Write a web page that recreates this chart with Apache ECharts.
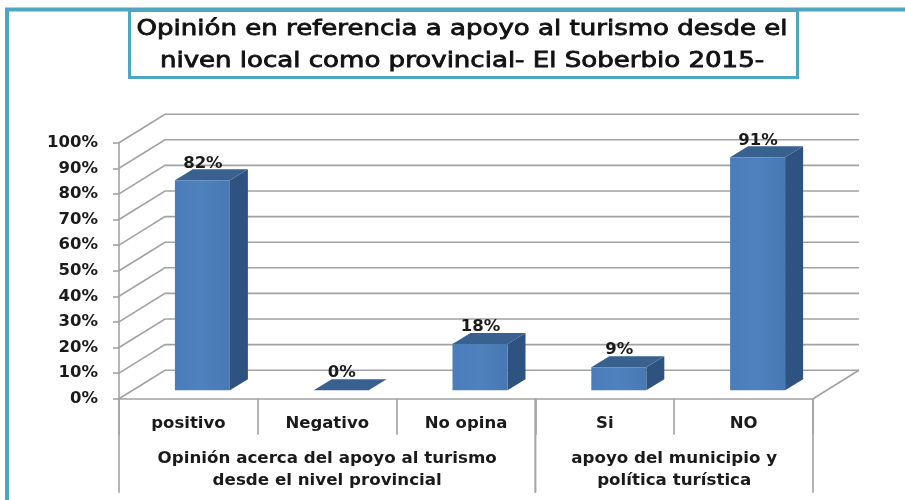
<!DOCTYPE html>
<html>
<head>
<meta charset="utf-8">
<style>
  html, body { margin: 0; padding: 0; background: #fff; }
  #chart { width: 905px; height: 500px; }
</style>
<script src="https://cdn.jsdelivr.net/npm/echarts@6/dist/echarts.min.js"></script>
</head>
<body>
<div id="chart"></div>
<script>
const categories = ['positivo', 'Negativo', 'No opina', 'Si', 'NO'];
const values = [82, 0, 18, 9, 91];
const yTicks = [0, 10, 20, 30, 40, 50, 60, 70, 80, 90, 100];
// first category, last category, label
const groupFirst = [0, 3];
const groupLast = [2, 4];
const groupLabels = [
  'Opinión acerca del apoyo al turismo\ndesde el nivel provincial',
  'apoyo del municipio y\npolítica turística',
];

const chartTitle = 'Opinión en referencia a apoyo al turismo desde el\nniven local como provincial- El Soberbio 2015-';

const teal = '#4fa6c0';
const gridColor = '#a2a2a2';
const textColor = '#1a1a1a';
const fontFamily = '"DejaVu Sans", Verdana, sans-serif';

// fake 3D offsets in pixels
const depth = { x: 46, y: 28.5 };
const barInset = { x: 14, y: 8.5 };
const barDepth = { x: 18, y: 11 };
const barWidth = 55;

const renderWall = (params, api) => {
  const cs = params.coordSys;
  const y = api.coord([0, api.value(1)])[1];
  const right = cs.x + cs.width;
  const children = [
    {
      type: 'polyline',
      shape: {
        points: [
          [cs.x, y],
          [cs.x + depth.x, y - depth.y],
          [right + depth.x, y - depth.y],
        ],
      },
      style: { stroke: gridColor, lineWidth: 1.6, fill: null },
    },
  ];
  // floor closes on the right side
  if (api.value(1) === 0) {
    children.push({
      type: 'line',
      shape: { x1: right, y1: y, x2: right + depth.x, y2: y - depth.y },
      style: { stroke: gridColor, lineWidth: 1.6 },
    });
  }
  return { type: 'group', children };
};

const renderBar = (params, api) => {
  const val = api.value(1);
  const base = api.coord([api.value(0), 0]);
  const top = api.coord([api.value(0), val]);
  const x0 = base[0] + barInset.x - barWidth / 2;
  const x1 = x0 + barWidth;
  const yBottom = base[1] - barInset.y;
  const yTop = top[1] - barInset.y;
  const dx = barDepth.x;
  const dy = barDepth.y;
  return {
    type: 'group',
    children: [
      {
        type: 'polygon',
        shape: { points: [[x1, yBottom], [x1 + dx, yBottom - dy], [x1 + dx, yTop - dy], [x1, yTop]] },
        style: { fill: '#2f5380' },
      },
      {
        type: 'polygon',
        shape: { points: [[x0, yTop], [x0 + dx, yTop - dy], [x1 + dx, yTop - dy], [x1, yTop]] },
        style: { fill: '#38618f' },
      },
      {
        type: 'rect',
        shape: { x: x0, y: yTop, width: barWidth, height: yBottom - yTop },
        style: {
          fill: new echarts.graphic.LinearGradient(0, 0, 1, 0, [
            { offset: 0, color: '#4a7dba' },
            { offset: 0.5, color: '#4f81bd' },
            { offset: 1, color: '#4778b3' },
          ]),
        },
      },
      {
        type: 'text',
        style: {
          x: (x0 + x1) / 2 + 0.5,
          y: yTop - 17,
          text: val + '%',
          align: 'center',
          verticalAlign: 'middle',
          font: 'bold 16.5px ' + fontFamily,
          fill: textColor,
        },
      },
    ],
  };
};

const renderGroup = (params, api) => {
  const band = api.size([1, 0])[0];
  const first = api.coord([api.value(0), 0]);
  const last = api.coord([api.value(1), 0]);
  const left = first[0] - band / 2;
  const right = last[0] + band / 2;
  const y0 = first[1];
  const line = (x) => ({
    type: 'line',
    shape: { x1: x, y1: y0, x2: x, y2: y0 + 94 },
    style: { stroke: gridColor, lineWidth: 1.6 },
  });
  return {
    type: 'group',
    children: [
      line(left),
      line(right),
      {
        type: 'text',
        style: {
          x: (left + right) / 2,
          y: y0 + 71,
          text: groupLabels[params.dataIndex],
          align: 'center',
          verticalAlign: 'middle',
          font: 'bold 16.7px ' + fontFamily,
          lineHeight: 22,
          fill: textColor,
        },
      },
    ],
  };
};

const chart = echarts.init(document.getElementById('chart'));

chart.setOption({
  animation: false,
  backgroundColor: '#fff',
  graphic: [
    {
      type: 'rect',
      z: -1,
      shape: { x: 7, y: 9.5, width: 1000, height: 600 },
      style: { fill: '#fff', stroke: teal, lineWidth: 4 },
    },
    {
      type: 'rect',
      z: 0,
      shape: { x: 129.5, y: 10.5, width: 668, height: 67 },
      style: { fill: '#fff', stroke: teal, lineWidth: 3 },
    },
    {
      // the source text is stretched sideways
      type: 'text',
      z: 1,
      x: 462,
      y: 46,
      scaleX: 1.24,
      style: {
        text: chartTitle,
        align: 'center',
        verticalAlign: 'middle',
        font: '21px ' + fontFamily,
        lineHeight: 32,
        fill: '#111',
        stroke: '#111',
        lineWidth: 0.8,
      },
    },
  ],
  grid: { left: 119, top: 142.7, width: 694, height: 256, containLabel: false },
  xAxis: {
    type: 'category',
    data: categories,
    axisLine: { lineStyle: { color: gridColor, width: 1.6 } },
    axisTick: { show: true, length: 36, lineStyle: { color: gridColor, width: 1.6 } },
    axisLabel: {
      margin: 17,
      fontFamily,
      fontSize: 16.5,
      fontWeight: 'bold',
      color: textColor,
    },
  },
  yAxis: {
    type: 'value',
    min: 0,
    max: 100,
    interval: 10,
    splitLine: { show: false },
    axisLine: { show: true, lineStyle: { color: gridColor, width: 1.6 } },
    axisTick: { show: true, length: 6, lineStyle: { color: gridColor, width: 1.6 } },
    axisLabel: {
      margin: 21,
      padding: [3, 0, 0, 0],
      formatter: '{value}%',
      fontFamily,
      fontSize: 16.5,
      fontWeight: 'bold',
      color: textColor,
    },
  },
  series: [
    {
      type: 'custom',
      z: 1,
      clip: false,
      silent: true,
      renderItem: renderWall,
      data: yTicks.map((t) => [0, t]),
    },
    {
      type: 'custom',
      z: 3,
      clip: false,
      silent: true,
      renderItem: renderBar,
      data: values.map((v, i) => [i, v]),
    },
    {
      type: 'custom',
      z: 2,
      clip: false,
      silent: true,
      renderItem: renderGroup,
      data: groupFirst.map((f, i) => [f, groupLast[i]]),
    },
  ],
});
</script>
</body>
</html>
